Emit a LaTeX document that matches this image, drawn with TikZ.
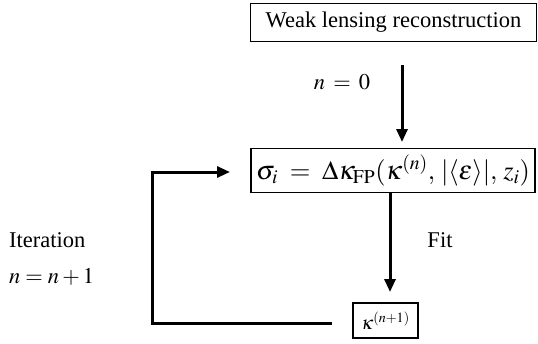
\documentclass[tikz,border=0pt]{standalone}
\usepackage{mathptmx}
\usepackage{fontspec}
\setmainfont{Liberation Serif}
\usetikzlibrary{arrows.meta}
\tikzset{
  box/.style={draw,line width=1.8pt,inner sep=0pt,align=center},
  flow/.style={line width=3pt,-{Triangle[width=11pt,length=13pt]}},
  lbl/.style={inner sep=0pt}
}
\begin{document}
\begin{tikzpicture}[x=1pt,y=-1pt,font=\fontsize{22.5}{27}\selectfont]
\useasboundingbox (0,0) rectangle (538,343);
\node[box,minimum width=286pt,minimum height=38pt] (wl) at (393.5,22.5) {Weak lensing reconstruction};
\node[box,minimum width=284pt,minimum height=44pt,font=\fontsize{26.5}{31}\selectfont] (sig) at (393,170.5) {$\sigma_i\;=\;\Delta\kappa_{\mathrm{FP}}(\kappa^{(n)},\,|\langle\varepsilon\rangle|,\,z_i)$};
\node[box,minimum width=65pt,minimum height=35pt,font=\fontsize{19}{23}\selectfont] (kap) at (385.5,320.5) {$\kappa^{(n+1)}$};
\coordinate (a1s) at (402,65);
\coordinate (a1e) at (402,142);
\draw[flow] (a1s) -- (a1e);
\coordinate (a2s) at (390,193);
\coordinate (a2e) at (390,292);
\draw[flow] (a2s) -- (a2e);
\coordinate (fbs) at (332,323);
\coordinate (fbc1) at (152,323);
\coordinate (fbc2) at (152,172);
\coordinate (fbe) at (230,172);
\draw[flow] (fbs) -- (fbc1) -- (fbc2) -- (fbe);
\node[lbl] (n0) at (342,82) {$n\:=\:0$};
\node[lbl] (fit) at (440,240) {Fit};
\node[lbl,anchor=west] (it) at (9,240) {Iteration};
\node[lbl,anchor=west] (nn) at (9,277) {$n=n+1$};
\end{tikzpicture}
\end{document}
